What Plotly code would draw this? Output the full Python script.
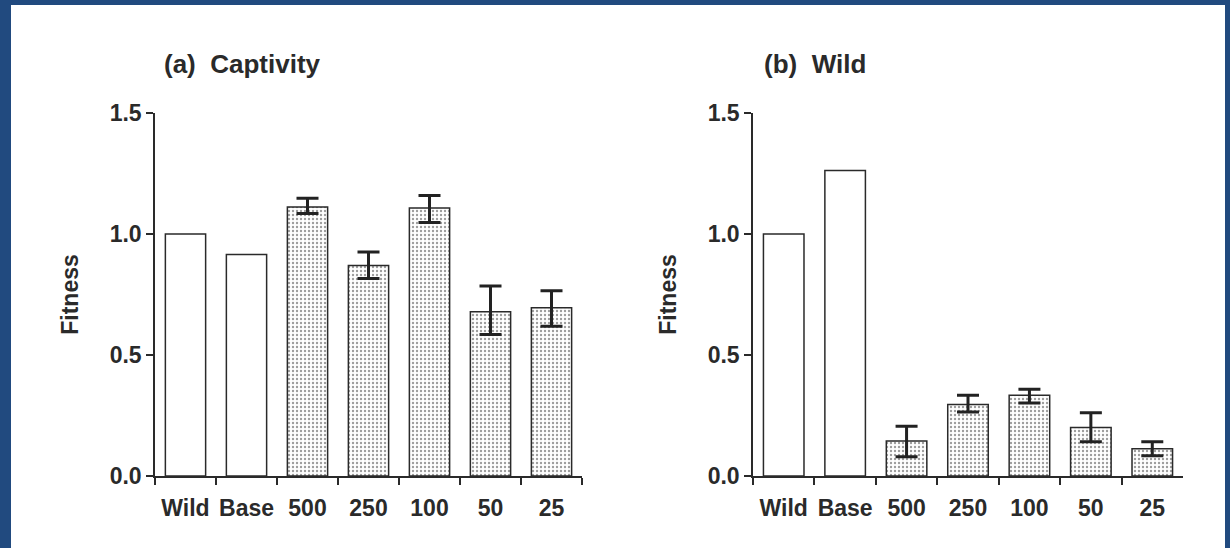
import plotly.graph_objects as go

categories = ["Wild", "Base", "500", "250", "100", "50", "25"]
open_cats = ["Wild", "Base"]
line_cats = ["500", "250", "100", "50", "25"]

captivity_open = [1.0, 0.915]
captivity_lines = [1.112, 0.870, 1.107, 0.679, 0.695]
captivity_err_plus = [0.036, 0.056, 0.052, 0.106, 0.070]
captivity_err_minus = [0.027, 0.054, 0.059, 0.094, 0.076]

wild_open = [1.0, 1.262]
wild_lines = [0.145, 0.295, 0.334, 0.200, 0.113]
wild_err_plus = [0.061, 0.039, 0.024, 0.061, 0.029]
wild_err_minus = [0.065, 0.031, 0.032, 0.058, 0.029]

y_ticks = [0.0, 0.5, 1.0, 1.5]
y_ticklabels = ["0.0", "0.5", "1.0", "1.5"]

W, H = 1230, 548
ML, MR, MT, MB = 155, 47, 113, 72
PW = W - ML - MR
PH = H - MT - MB

INK = "#2a2a2a"
FONT = "Liberation Sans, Arial, Helvetica, sans-serif"

fig = go.Figure()

def add_panel(xa, ya, open_vals, line_vals, ep, em):
    fig.add_trace(go.Bar(
        x=open_cats, y=open_vals, xaxis=xa, yaxis=ya,
        marker=dict(color="white", line=dict(color=INK, width=1.5)),
        showlegend=False, hoverinfo="skip"))
    fig.add_trace(go.Bar(
        x=line_cats, y=line_vals, xaxis=xa, yaxis=ya,
        marker=dict(color="white", line=dict(color=INK, width=1.5),
                    pattern=dict(shape=".", fgcolor="#3a3a3a", bgcolor="white",
                                 size=4, solidity=0.28)),
        error_y=dict(type="data", symmetric=False, array=ep, arrayminus=em,
                     color="#222222", thickness=3, width=11),
        showlegend=False, hoverinfo="skip"))

add_panel("x", "y", captivity_open, captivity_lines, captivity_err_plus, captivity_err_minus)
add_panel("x2", "y2", wild_open, wild_lines, wild_err_plus, wild_err_minus)

tickfont = dict(family=FONT, size=23, color=INK, weight="bold")
xa_common = dict(type="category", categoryorder="array", categoryarray=categories,
                 tickson="boundaries", ticks="outside", ticklen=7, tickwidth=1.5,
                 tickcolor=INK, showline=True, linecolor=INK, linewidth=1.5,
                 showgrid=False, zeroline=False, range=[-0.5, 6.5],
                 tickangle=0, automargin=False, tickfont=tickfont,
                 ticklabelstandoff=11)
ya_common = dict(range=[0, 1.5], tickvals=y_ticks, ticktext=y_ticklabels,
                 ticks="outside", ticklen=7, tickwidth=1.5, tickcolor=INK,
                 showline=True, linecolor=INK, linewidth=1.5, showgrid=False,
                 zeroline=False, automargin=False, tickfont=tickfont,
                 title=dict(text="Fitness",
                            font=dict(family=FONT, size=23, color=INK, weight="bold"),
                            standoff=25))

dom_a = [0, (582 - ML) / PW]
dom_b = [(753 - ML) / PW, 1.0]

fig.update_layout(
    width=W, height=H,
    margin=dict(l=ML, r=MR, t=MT, b=MB, autoexpand=False),
    paper_bgcolor="white", plot_bgcolor="white",
    barmode="overlay", bargap=0.34,
    xaxis=dict(xa_common, domain=dom_a, anchor="y"),
    yaxis=dict(ya_common, anchor="x"),
    xaxis2=dict(xa_common, domain=dom_b, anchor="y2"),
    yaxis2=dict(ya_common, anchor="x2"),
)

def px2x(px):
    return (px - ML) / PW

def py2y(py):
    return (H - MB - py) / PH

title_font = dict(family=FONT, size=26, color=INK, weight="bold")
fig.add_annotation(text="(a)\u00a0\u00a0Captivity", x=px2x(162), y=py2y(64),
                   xref="paper", yref="paper", xanchor="left", yanchor="middle",
                   showarrow=False, font=title_font)
fig.add_annotation(text="(b)\u00a0\u00a0Wild", x=px2x(762), y=py2y(64),
                   xref="paper", yref="paper", xanchor="left", yanchor="middle",
                   showarrow=False, font=title_font)

BORDER = "#214a7f"
for (x0, y0, x1, y1) in [(0, 0, 11, H), (0, 0, W, 5), (1225, 0, W, H)]:
    fig.add_shape(type="rect", xref="paper", yref="paper",
                  x0=px2x(x0), x1=px2x(x1), y0=py2y(y1), y1=py2y(y0),
                  fillcolor=BORDER, line=dict(width=0), layer="above")

fig.write_html("out.html", config={"displayModeBar": False},
               post_script="document.body.style.margin='0';document.body.style.overflow='hidden';")
